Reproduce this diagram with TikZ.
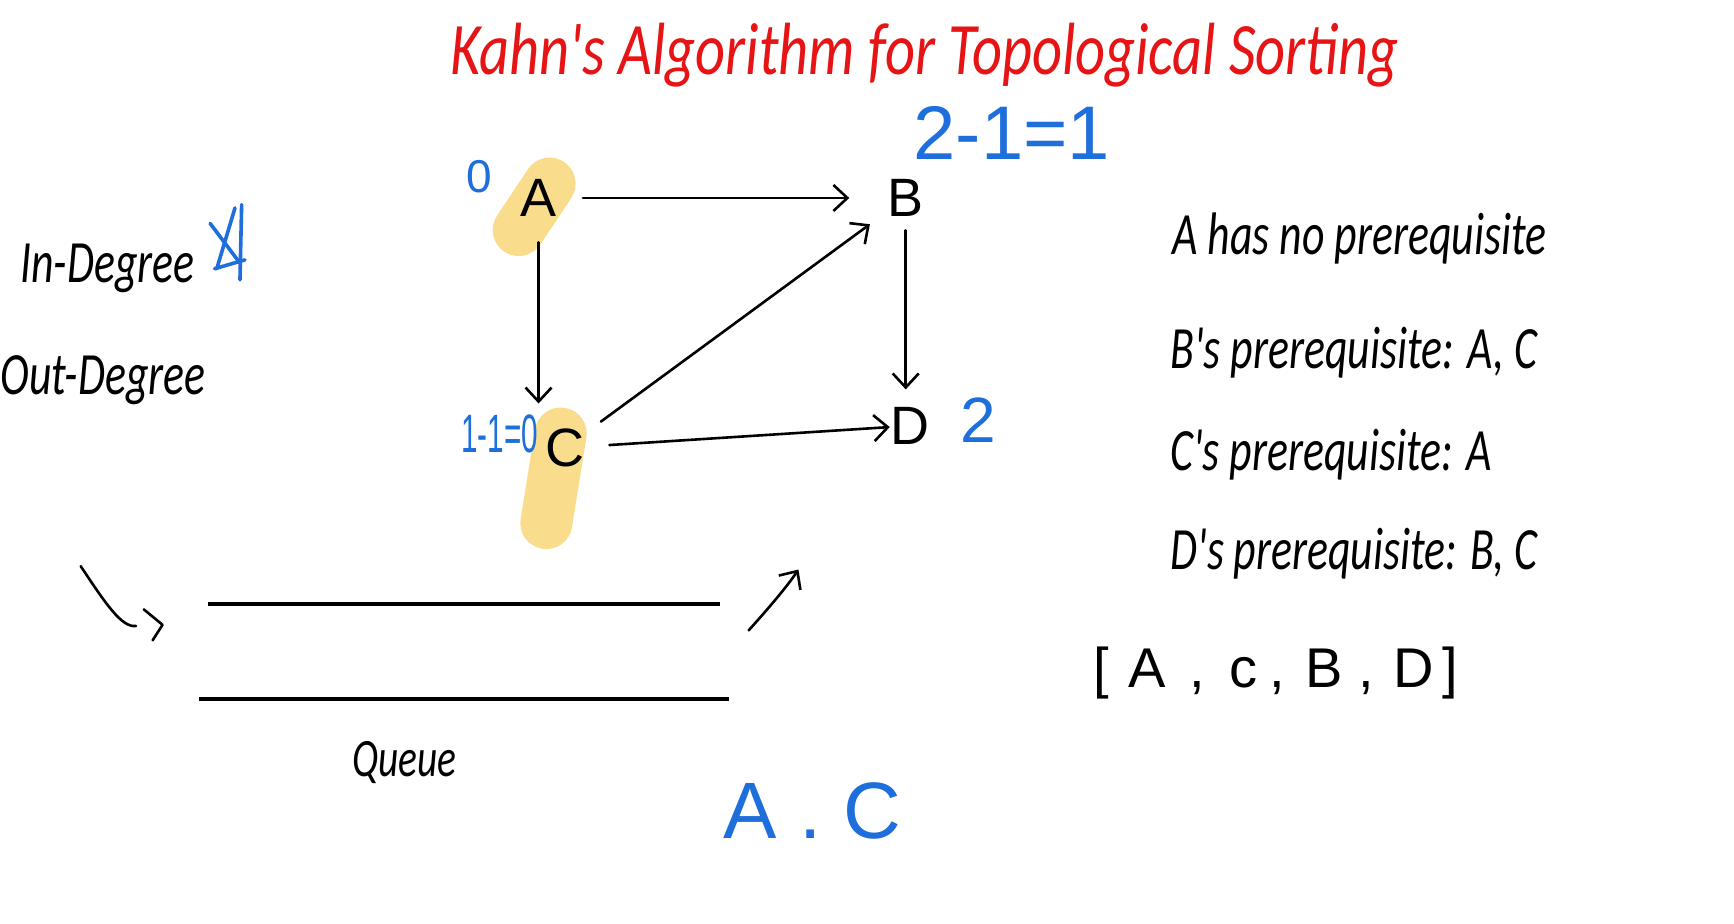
\documentclass[tikz,border=0pt]{standalone}
\usepackage{fontspec}
\setmainfont{Liberation Sans}
\newfontfamily\hand[FakeStretch=0.73]{Carlito}
\newfontfamily\titlehand[FakeStretch=0.79]{Carlito}
\newfontfamily\bnarrow[FakeStretch=0.55]{Liberation Sans}
\usetikzlibrary{arrows.meta}
\definecolor{kred}{RGB}{230,20,20}
\definecolor{kblue}{RGB}{30,110,220}
\definecolor{hl}{RGB}{250,221,140}
\begin{document}
\begin{tikzpicture}[x=0.5529pt,y=-0.5529pt,
  vert/.style={circle, inner sep=0pt, minimum size=44pt, font=\fontsize{27}{30}\selectfont},
  arr/.style={-{Straight Barb[length=7pt,width=13pt]}, line width=1.3pt, line cap=round},
  pen/.style={line width=1.3pt, line cap=round, line join=round},
  bluepen/.style={line width=1.8pt, line cap=round, line join=round, kblue},
  handtxt/.style={font=\hand\itshape\fontsize{30}{34}\selectfont, anchor=base west, inner sep=0pt},
  bluetxt/.style={text=kblue, inner sep=0pt},
  hlstroke/.style={hl, line width=26pt, line cap=round}]
\useasboundingbox (0,0) rectangle (1568,835);
\fill[white] (0,0) rectangle (1568,835);

% highlights
\coordinate (hA1) at (497,166);
\coordinate (hA2) at (469,208);
\coordinate (hC1) at (507,392);
\coordinate (hC2) at (494,473);
\draw[hlstroke] (hA1) -- (hA2);
\draw[hlstroke] (hC1) -- (hC2);

% title
\node[text=kred, inner sep=0pt, font=\titlehand\itshape\fontsize{37}{40}\selectfont] (title) at (836,50) {Kahn's Algorithm for Topological Sorting};

% vertices
\node[vert] (A) at (487,179) {A};
\node[vert] (B) at (819,179) {B};
\node[vert] (C) at (511,405) {C};
\node[vert] (D) at (823,385) {D};

% edges
\draw[arr, shorten >=6pt] (A) -- (B);
\draw[arr] (A.south) -- (A.south |- C.north);
\draw[arr, shorten <=-6pt, shorten >=-4pt] (B.south) -- (B.south |- D.north);
\draw[arr] (C) -- (B);
\draw[arr, shorten >=-12pt] (C) -- (D);

% blue annotations
\node[bluetxt, font=\fontsize{23}{26}\selectfont] (zeroA) at (433,160) {0};
\node[bluetxt, font=\fontsize{38}{42}\selectfont] (calcB) at (915,120) {2-1=1};
\node[bluetxt, font=\fontsize{32}{36}\selectfont] (twoD) at (885,380) {2};
\node[bluetxt, font=\bnarrow\fontsize{27}{30}\selectfont] (calcC) at (452,392) {1-1=0};
\node[bluetxt, font=\fontsize{40}{44}\selectfont] (queueval) at (735,733) {A . C};

% left labels
\node[handtxt] (indeg) at (18,255) {In-Degree};
\node[handtxt] (outdeg) at (0,357) {Out-Degree};
\draw[bluepen] (218.5,185) -- (217,253);
\draw[bluepen] (190,202) -- (217,238);
\draw[bluepen] (212.5,188) -- (196,243);
\draw[bluepen] (194,243) -- (221.5,235);

% queue
\coordinate (q1a) at (188,546);
\coordinate (q1b) at (651,546);
\coordinate (q2a) at (180,632);
\coordinate (q2b) at (659,632);
\draw[line width=1.8pt] (q1a) -- (q1b);
\draw[line width=1.8pt] (q2a) -- (q2b);
\node[handtxt, font=\hand\itshape\fontsize{27}{30}\selectfont] (queue) at (318,702) {Queue};

% in / out arrows
\coordinate (in1) at (73,512);
\coordinate (in2) at (123,566);
\draw[pen] (in1) .. controls (95,545) and (110,568) .. (in2);
\coordinate (hk1) at (130,551);
\coordinate (hk2) at (147,565);
\coordinate (hk3) at (138,579);
\draw[pen] (hk1) -- (hk2) -- (hk3);
\coordinate (out1) at (677,570);
\coordinate (out2) at (722,515);
\draw[arr] (out1) .. controls (695,550) and (712,530) .. (out2);

% right texts
\node[handtxt] (preA) at (1060,230) {A has no prerequisite};
\node[handtxt] (preB) at (1058,333) {B's prerequisite: A, C};
\node[handtxt] (preC) at (1058,425) {C's prerequisite: A};
\node[handtxt] (preD) at (1058,515) {D's prerequisite: B, C};
\node[inner sep=0pt, anchor=base west, font=\fontsize{28}{30}\selectfont] (order) at (988,622)
  {[\hspace{10pt}A\hspace{12pt},\hspace{12pt}c\hspace{6pt},\hspace{10pt}B\hspace{8pt},\hspace{10pt}D\hspace{4pt}]};
\end{tikzpicture}
\end{document}
